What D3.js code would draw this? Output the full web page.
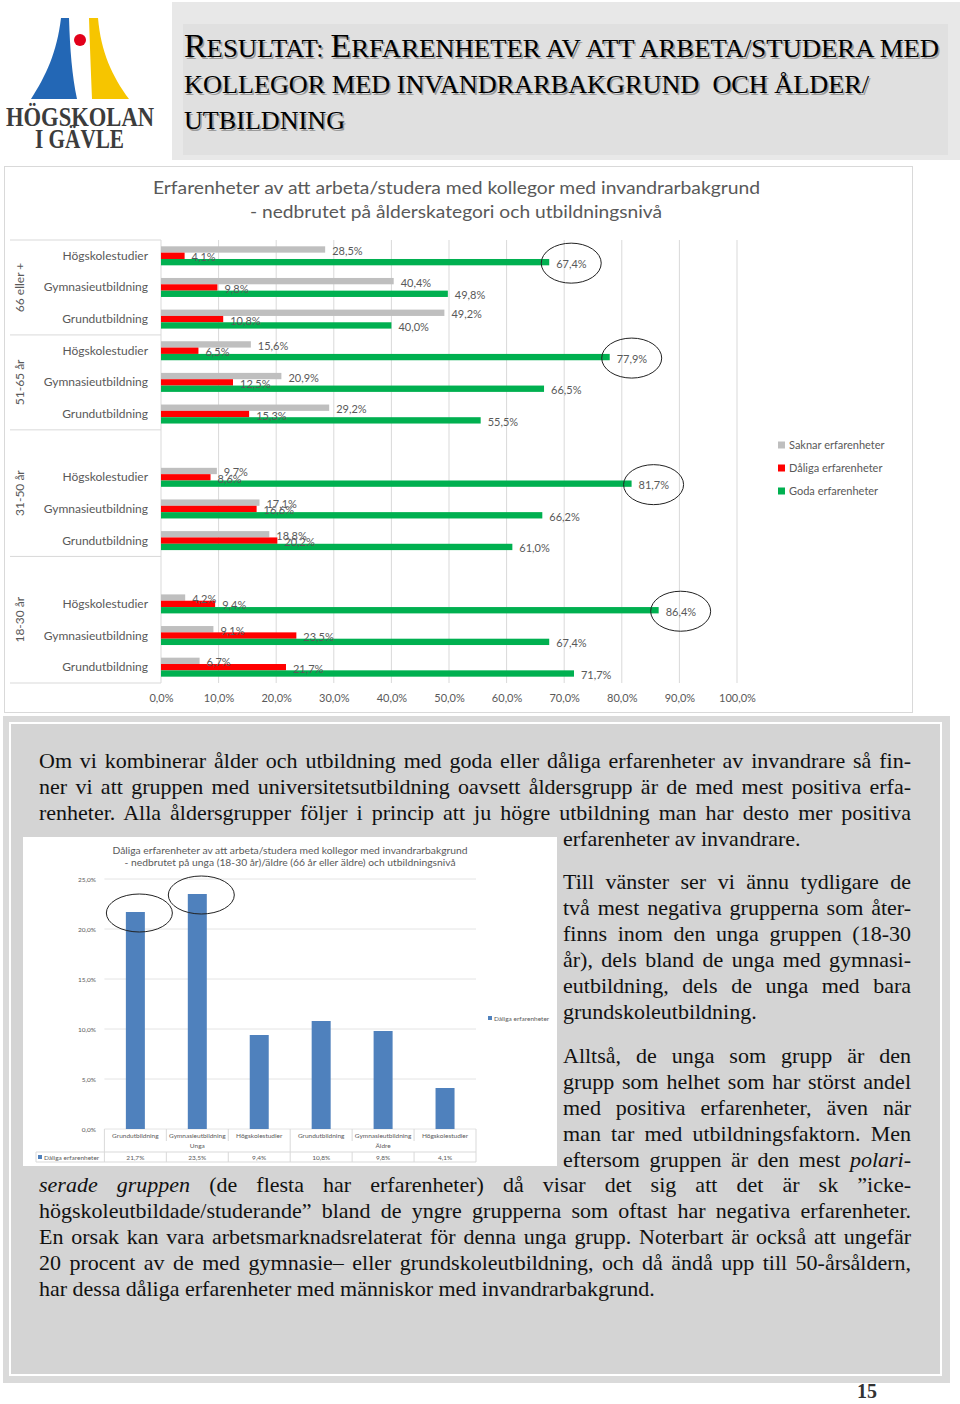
<!DOCTYPE html>
<html>
<head>
<meta charset="utf-8">
<script src="https://cdn.jsdelivr.net/npm/d3@7"></script>
<style>
  body { margin: 0; background: #fff; }
  svg { display: block; }
</style>
</head>
<body>
<svg width="960" height="1404"></svg>
<script>
// ---- data: main chart ----
var ageGroups = ['66 eller +', '51-65 år', '31-50 år', '18-30 år'];
var blankBefore = [false, false, true, true]; // empty category slot in the source chart
var eduLevels = ['Högskolestudier', 'Gymnasieutbildning', 'Grundutbildning'];
var seriesNames = ['Saknar erfarenheter', 'Dåliga erfarenheter', 'Goda erfarenheter'];
var saknar = [28.5, 40.4, 49.2, 15.6, 20.9, 29.2, 9.7, 17.1, 18.8, 4.2, 9.1, 6.7];
var daliga = [4.1, 9.8, 10.8, 6.5, 12.5, 15.3, 8.6, 16.6, 20.2, 9.4, 23.5, 21.7];
var goda = [67.4, 49.8, 40.0, 77.9, 66.5, 55.5, 81.7, 66.2, 61.0, 86.4, 67.4, 71.7];
var xTicks = [0, 10, 20, 30, 40, 50, 60, 70, 80, 90, 100];
var circled = [0, 3, 6, 9];

// ---- data: small chart ----
var smallCats = ['Grundutbildning', 'Gymnasieutbildning', 'Högskolestudier',
                 'Grundutbildning', 'Gymnasieutbildning', 'Högskolestudier'];
var smallGroups = ['Unga', 'Äldre'];
var smallValues = [21.7, 23.5, 9.4, 10.8, 9.8, 4.1];
var smallTicks = [0, 5, 10, 15, 20, 25];
var smallCircled = [0, 1];

var svg = d3.select('svg');
var grey = '#595959';
var sans = 'Lato, "Open Sans", sans-serif';
var serif = '"Liberation Serif", "Times New Roman", serif';
var pct = function (v) { return d3.format('.1f')(v).replace('.', ',') + '%'; };

// ---- header ----
svg.append('rect').attr('x', 172).attr('y', 2).attr('width', 788).attr('height', 158).attr('fill', '#e8e8e8');
svg.append('rect').attr('x', 183).attr('y', 24).attr('width', 765).attr('height', 131).attr('fill', '#e0e0e0');

var headLines = [
  { segs: [['R', 1], ['ESULTAT: ', 0], ['E', 1], ['RFARENHETER AV ATT ARBETA/STUDERA MED', 0]], y: 57, w: 755 },
  { segs: [['KOLLEGOR MED INVANDRARBAKGRUND  OCH ÅLDER/', 0]], y: 93, w: 685 },
  { segs: [['UTBILDNING', 0]], y: 129, w: 161 }
];
[['#9c9c9c', 1.6], ['#000', 0]].forEach(function (pass) {
  headLines.forEach(function (l) {
    var t = svg.append('text')
      .attr('x', 184 + pass[1]).attr('y', l.y + pass[1])
      .attr('textLength', l.w).attr('lengthAdjust', 'spacingAndGlyphs')
      .style('white-space', 'pre')
      .attr('font-family', serif).attr('fill', pass[0]);
    l.segs.forEach(function (s) {
      t.append('tspan').attr('font-size', s[1] ? 33 : 26).text(s[0]);
    });
  });
});

// ---- logo ----
var logo = svg.append('g');
logo.append('path').attr('d', 'M61,18 L69,18 C70,50 72,75 77,99 L31,99 C46,76 57,52 61,18 Z').attr('fill', '#2367b5');
logo.append('path').attr('d', 'M89,18 L98,18 C101,52 112,76 129,99 L92,99 C91,75 90,50 89,18 Z').attr('fill', '#f6c500');
logo.append('circle').attr('cx', 80).attr('cy', 40).attr('r', 6).attr('fill', '#e2001a');
logo.append('text').attr('x', 6).attr('y', 126).attr('textLength', 148).attr('lengthAdjust', 'spacingAndGlyphs')
  .attr('font-family', serif).attr('font-weight', 'bold').attr('font-size', 27).attr('fill', '#3c3c3c').text('HÖGSKOLAN');
logo.append('text').attr('x', 35).attr('y', 148).attr('textLength', 89).attr('lengthAdjust', 'spacingAndGlyphs')
  .attr('font-family', serif).attr('font-weight', 'bold').attr('font-size', 27).attr('fill', '#3c3c3c').text('I GÄVLE');

// ---- main chart ----
svg.append('rect').attr('x', 4.5).attr('y', 166.5).attr('width', 908).attr('height', 546)
  .attr('fill', '#fff').attr('stroke', '#d9d9d9');

var chart = svg.append('g');
chart.append('text').attr('x', 456.5).attr('y', 194).attr('text-anchor', 'middle')
  .attr('textLength', 607).attr('lengthAdjust', 'spacingAndGlyphs')
  .attr('font-family', sans).attr('font-size', 17).attr('fill', grey)
  .text('Erfarenheter av att arbeta/studera med kollegor med invandrarbakgrund');
chart.append('text').attr('x', 456).attr('y', 218).attr('text-anchor', 'middle')
  .attr('textLength', 412).attr('lengthAdjust', 'spacingAndGlyphs')
  .attr('font-family', sans).attr('font-size', 17).attr('fill', grey)
  .text('- nedbrutet på ålderskategori och utbildningsnivå');

var rows = [], rowKeys = [];
ageGroups.forEach(function (g, gi) {
  if (blankBefore[gi]) rowKeys.push(g + '|');
  eduLevels.forEach(function (e, ei) {
    var i = gi * eduLevels.length + ei;
    rowKeys.push(g + '|' + e);
    rows.push({ i: i, key: g + '|' + e, group: g, edu: e, vals: [saknar[i], daliga[i], goda[i]] });
  });
});

var x = d3.scaleLinear().domain([0, 100]).range([161, 737]);
var y = d3.scaleBand().domain(rowKeys).range([240, 683]);
var sub = d3.scaleBand().domain([0, 1, 2]).range([y.bandwidth() / 2 - 9.5, y.bandwidth() / 2 + 9.5]);
var colors = ['#bfbfbf', '#ff0000', '#00b050'];

chart.append('g').selectAll('line').data(xTicks).enter().append('line')
  .attr('x1', function (d) { return x(d); }).attr('x2', function (d) { return x(d); })
  .attr('y1', 240).attr('y2', 683).attr('stroke', '#d9d9d9');

var xAxis = chart.append('g').attr('transform', 'translate(0,683)')
  .call(d3.axisBottom(x).tickValues(xTicks).tickFormat(pct).tickSize(0).tickPadding(11));
xAxis.select('.domain').remove();
xAxis.selectAll('text').attr('font-family', sans).attr('font-size', 11).attr('fill', grey);

// group separators in the label area
var bounds = [240];
ageGroups.forEach(function (g) {
  var keys = rowKeys.filter(function (k) { return k.split('|')[0] === g; });
  bounds.push(y(keys[keys.length - 1]) + y.bandwidth());
});
chart.append('g').selectAll('line').data(bounds).enter().append('line')
  .attr('x1', 10).attr('x2', 161)
  .attr('y1', function (d) { return d; }).attr('y2', function (d) { return d; })
  .attr('stroke', '#d9d9d9');

chart.append('g').selectAll('text').data(ageGroups).enter().append('text')
  .attr('transform', function (d, i) {
    return 'translate(24,' + (bounds[i] + bounds[i + 1]) / 2 + ') rotate(-90)';
  })
  .attr('text-anchor', 'middle').attr('font-family', sans).attr('font-size', 12).attr('fill', grey)
  .text(function (d) { return d; });

chart.append('g').selectAll('text').data(rows).enter().append('text')
  .attr('x', 148).attr('y', function (d) { return y(d.key) + y.bandwidth() / 2 + 4; })
  .attr('text-anchor', 'end').attr('font-family', sans).attr('font-size', 12).attr('fill', grey)
  .text(function (d) { return d.edu; });

var rowG = chart.append('g').selectAll('g').data(rows).enter().append('g')
  .attr('transform', function (d) { return 'translate(0,' + y(d.key) + ')'; });

rowG.selectAll('rect').data(function (d) { return d.vals; }).enter().append('rect')
  .attr('x', x(0)).attr('y', function (v, s) { return sub(s); })
  .attr('width', function (v) { return x(v) - x(0); }).attr('height', sub.bandwidth())
  .attr('fill', function (v, s) { return colors[s]; });

rowG.selectAll('text').data(function (d) { return d.vals; }).enter().append('text')
  .attr('x', function (v) { return x(v) + 7; })
  .attr('y', function (v, s) { return sub(s) + sub.bandwidth() / 2 + 1; })
  .attr('dominant-baseline', 'central')
  .attr('font-family', sans).attr('font-size', 11).attr('fill', grey)
  .text(pct);

chart.append('g').selectAll('ellipse').data(rows.filter(function (d) { return circled.indexOf(d.i) >= 0; }))
  .enter().append('ellipse')
  .attr('cx', function (d) { return x(d.vals[2]) + 22; })
  .attr('cy', function (d) { return y(d.key) + sub(2) + sub.bandwidth() / 2 + 1; })
  .attr('rx', 30).attr('ry', 20)
  .attr('fill', 'none').attr('stroke', '#222').attr('stroke-width', 1);

var legend = chart.append('g').selectAll('g').data(seriesNames).enter().append('g')
  .attr('transform', function (d, i) { return 'translate(778,' + (445 + i * 23) + ')'; });
legend.append('rect').attr('x', 0).attr('y', -3.5).attr('width', 7).attr('height', 7)
  .attr('fill', function (d, i) { return colors[i]; });
legend.append('text').attr('x', 11).attr('y', 4)
  .attr('font-family', sans).attr('font-size', 11).attr('fill', grey)
  .text(function (d) { return d; });

// ---- text box ----
svg.append('rect').attr('x', 3).attr('y', 716).attr('width', 947).attr('height', 667).attr('fill', '#dadada');
svg.append('rect').attr('x', 10).attr('y', 723).attr('width', 931).attr('height', 652)
  .attr('fill', '#d4d4d4').attr('stroke', '#fff').attr('stroke-width', 2);

var textLines = [
  { x: 39, w: 872, y: 768, j: 1, s: [['Om vi kombinerar ålder och utbildning med goda eller dåliga erfarenheter av invandrare så fin-']] },
  { x: 39, w: 872, y: 794, j: 1, s: [['ner vi att gruppen med universitetsutbildning oavsett åldersgrupp är de med mest positiva erfa-']] },
  { x: 39, w: 872, y: 820, j: 1, s: [['renheter. Alla åldersgrupper följer i princip att ju högre utbildning man har desto mer positiva']] },
  { x: 563, w: 348, y: 846, j: 0, s: [['erfarenheter av invandrare.']] },
  { x: 563, w: 348, y: 889, j: 1, s: [['Till vänster ser vi ännu tydligare de']] },
  { x: 563, w: 348, y: 915, j: 1, s: [['två mest negativa grupperna som åter-']] },
  { x: 563, w: 348, y: 941, j: 1, s: [['finns inom den unga gruppen (18-30']] },
  { x: 563, w: 348, y: 967, j: 1, s: [['år), dels bland de unga med gymnasi-']] },
  { x: 563, w: 348, y: 993, j: 1, s: [['eutbildning, dels de unga med bara']] },
  { x: 563, w: 348, y: 1019, j: 0, s: [['grundskoleutbildning.']] },
  { x: 563, w: 348, y: 1063, j: 1, s: [['Alltså, de unga som grupp är den']] },
  { x: 563, w: 348, y: 1089, j: 1, s: [['grupp som helhet som har störst andel']] },
  { x: 563, w: 348, y: 1115, j: 1, s: [['med positiva erfarenheter, även när']] },
  { x: 563, w: 348, y: 1141, j: 1, s: [['man tar med utbildningsfaktorn. Men']] },
  { x: 563, w: 348, y: 1167, j: 1, s: [['eftersom gruppen är den mest '], ['polari-', 1]] },
  { x: 39, w: 872, y: 1192, j: 1, s: [['serade gruppen', 1], [' (de flesta har erfarenheter) då visar det sig att det är sk ”icke-']] },
  { x: 39, w: 872, y: 1218, j: 1, s: [['högskoleutbildade/studerande” bland de yngre grupperna som oftast har negativa erfarenheter.']] },
  { x: 39, w: 872, y: 1244, j: 1, s: [['En orsak kan vara arbetsmarknadsrelaterat för denna unga grupp. Noterbart är också att ungefär']] },
  { x: 39, w: 872, y: 1270, j: 1, s: [['20 procent av de med gymnasie– eller grundskoleutbildning, och då ändå upp till 50-årsåldern,']] },
  { x: 39, w: 872, y: 1296, j: 0, s: [['har dessa dåliga erfarenheter med människor med invandrarbakgrund.']] }
];
var body = svg.append('g').attr('font-family', serif).attr('font-size', 22).attr('fill', '#111');
textLines.forEach(function (l) {
  var t = body.append('text').attr('x', l.x).attr('y', l.y);
  l.s.forEach(function (s) {
    t.append('tspan').attr('font-style', s[1] ? 'italic' : 'normal').text(s[0]);
  });
  if (l.j) {
    var full = l.s.map(function (s) { return s[0]; }).join('');
    var spaces = full.split(' ').length - 1;
    var len = t.node().getComputedTextLength();
    t.style('word-spacing', ((l.w - len) / spaces) + 'px');
  }
});

// ---- small chart ----
svg.append('rect').attr('x', 23).attr('y', 837).attr('width', 534).attr('height', 329).attr('fill', '#fff');
var c2 = svg.append('g');
c2.append('text').attr('x', 290).attr('y', 854).attr('text-anchor', 'middle')
  .attr('textLength', 355).attr('lengthAdjust', 'spacingAndGlyphs')
  .attr('font-family', sans).attr('font-size', 10).attr('fill', grey)
  .text('Dåliga erfarenheter av att arbeta/studera med kollegor med invandrarbakgrund');
c2.append('text').attr('x', 290).attr('y', 865.5).attr('text-anchor', 'middle')
  .attr('textLength', 331).attr('lengthAdjust', 'spacingAndGlyphs')
  .attr('font-family', sans).attr('font-size', 10).attr('fill', grey)
  .text('- nedbrutet på unga (18-30 år)/äldre (66 år eller äldre) och utbildningsnivå');

var x2 = d3.scaleBand().domain(d3.range(smallValues.length)).range([104.4, 476]);
var y2 = d3.scaleLinear().domain([0, 25]).range([1129, 879]);
var blue = '#4f81bd';

c2.append('g').selectAll('line').data(smallTicks).enter().append('line')
  .attr('x1', 104.4).attr('x2', 476)
  .attr('y1', function (d) { return y2(d); }).attr('y2', function (d) { return y2(d); })
  .attr('stroke', '#e4e4e4');
c2.append('g').selectAll('text').data(smallTicks).enter().append('text')
  .attr('x', 96).attr('y', function (d) { return y2(d) + 2.5; })
  .attr('text-anchor', 'end').attr('font-family', sans).attr('font-size', 6.5).attr('fill', grey)
  .text(pct);

c2.append('g').selectAll('rect').data(smallValues).enter().append('rect')
  .attr('x', function (d, i) { return x2(i) + (x2.bandwidth() - 19) / 2; })
  .attr('y', function (d) { return y2(d); })
  .attr('width', 19).attr('height', function (d) { return y2(0) - y2(d); })
  .attr('fill', blue);

c2.append('g').selectAll('ellipse').data(smallCircled).enter().append('ellipse')
  .attr('cx', function (i) { return x2(i) + x2.bandwidth() / 2 + 4; })
  .attr('cy', function (i) { return y2(smallValues[i]) + 1; })
  .attr('rx', 33).attr('ry', 19)
  .attr('fill', 'none').attr('stroke', '#222').attr('stroke-width', 1);

// data table under the columns
var edges = d3.range(smallValues.length + 1).map(function (i) {
  return i < smallValues.length ? x2(i) : x2.range()[1];
});
var table = c2.append('g').attr('stroke', '#d9d9d9');
edges.forEach(function (ex, i) {
  if (i % 3 === 0) {
    table.append('line').attr('x1', ex).attr('x2', ex).attr('y1', 1129).attr('y2', 1162);
  } else {
    table.append('line').attr('x1', ex).attr('x2', ex).attr('y1', 1129).attr('y2', 1141);
    table.append('line').attr('x1', ex).attr('x2', ex).attr('y1', 1152).attr('y2', 1162);
  }
});
[1152, 1162].forEach(function (ty) {
  table.append('line').attr('x1', 36).attr('x2', 476).attr('y1', ty).attr('y2', ty);
});
table.append('line').attr('x1', 36).attr('x2', 36).attr('y1', 1152).attr('y2', 1162);

c2.append('g').selectAll('text').data(smallCats).enter().append('text')
  .attr('x', function (d, i) { return x2(i) + x2.bandwidth() / 2; }).attr('y', 1137.5)
  .attr('text-anchor', 'middle').attr('font-family', sans).attr('font-size', 6.5).attr('fill', grey)
  .text(function (d) { return d; });
c2.append('g').selectAll('text').data(smallGroups).enter().append('text')
  .attr('x', function (d, gi) { return (edges[gi * 3] + edges[gi * 3 + 3]) / 2; }).attr('y', 1148)
  .attr('text-anchor', 'middle').attr('font-family', sans).attr('font-size', 6.5).attr('fill', grey)
  .text(function (d) { return d; });
c2.append('g').selectAll('text').data(smallValues).enter().append('text')
  .attr('x', function (d, i) { return x2(i) + x2.bandwidth() / 2; }).attr('y', 1159.5)
  .attr('text-anchor', 'middle').attr('font-family', sans).attr('font-size', 6.5).attr('fill', grey)
  .text(pct);
c2.append('rect').attr('x', 38).attr('y', 1155).attr('width', 4).attr('height', 4).attr('fill', blue);
c2.append('text').attr('x', 44).attr('y', 1159.5).attr('font-family', sans).attr('font-size', 6.5)
  .attr('fill', grey).text(seriesNames[1]);
c2.append('rect').attr('x', 488).attr('y', 1016).attr('width', 4).attr('height', 4).attr('fill', blue);
c2.append('text').attr('x', 494).attr('y', 1020.5).attr('font-family', sans).attr('font-size', 6.5)
  .attr('fill', grey).text(seriesNames[1]);

// ---- page number ----
svg.append('text').attr('x', 867).attr('y', 1398).attr('text-anchor', 'middle')
  .attr('font-family', serif).attr('font-weight', 'bold').attr('font-size', 20).attr('fill', '#333')
  .text('15');
</script>
</body>
</html>
